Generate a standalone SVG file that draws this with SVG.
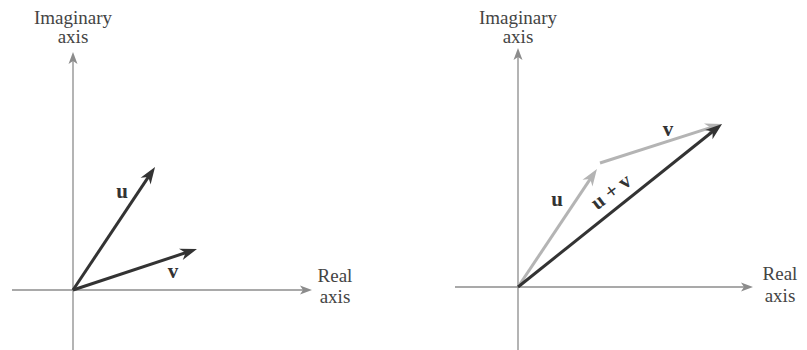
<svg xmlns="http://www.w3.org/2000/svg" width="807" height="350" viewBox="0 0 807 350">
<style>
.axis{stroke:#8c8c8c;stroke-width:1.3;fill:none;marker-end:url(#ah)}
.dk{stroke:#333;stroke-width:3;fill:none;marker-end:url(#dk)}
.lt{stroke:#b4b4b4;stroke-width:3;fill:none;marker-end:url(#lt)}
.lbl{font-family:"Liberation Serif",serif;font-size:19px;fill:#444;text-anchor:middle}
.vl{font-family:"Liberation Serif",serif;font-size:21px;font-weight:bold;fill:#333;text-anchor:middle}
</style>
<defs>
<marker id="ah" markerUnits="userSpaceOnUse" viewBox="-16 -6 17 12" refX="-6" refY="0" markerWidth="17" markerHeight="12" orient="auto"><path d="M0,0 L-12,-4.5 L-9,0 L-12,4.5 Z" fill="#8c8c8c"/></marker>
<marker id="dk" markerUnits="userSpaceOnUse" viewBox="-18 -8 19 16" refX="-8" refY="0" markerWidth="19" markerHeight="16" orient="auto"><path d="M0,0 L-17,-6 L-12,0 L-17,6 Z" fill="#333"/></marker>
<marker id="lt" markerUnits="userSpaceOnUse" viewBox="-18 -8 19 16" refX="-8" refY="0" markerWidth="19" markerHeight="16" orient="auto"><path d="M0,0 L-17,-6 L-12,0 L-17,6 Z" fill="#b4b4b4"/></marker>
</defs>
<g id="connectors">
<line class="axis" x1="73" y1="350" x2="73" y2="58"/>
<line class="axis" x1="12" y1="290" x2="306" y2="290"/>
<line class="axis" x1="518" y1="350" x2="518" y2="54"/>
<line class="axis" x1="455" y1="287" x2="747" y2="287"/>
<line class="dk" x1="73" y1="290" x2="150.6" y2="173.7"/>
<line class="dk" x1="73" y1="290" x2="189.4" y2="251.5"/>
<line class="lt" x1="518" y1="287" x2="592.5" y2="175.6"/>
<line class="lt" x1="600" y1="163" x2="714.4" y2="126.4"/>
<line class="dk" x1="518" y1="287" x2="715.8" y2="129"/>
</g>
<g id="left-imag"><text class="lbl" x="73" y="24">Imaginary</text><text class="lbl" x="73" y="43">axis</text></g>
<g id="left-real"><text class="lbl" x="335" y="282">Real</text><text class="lbl" x="335" y="303">axis</text></g>
<g id="right-imag"><text class="lbl" x="518" y="24">Imaginary</text><text class="lbl" x="518" y="43">axis</text></g>
<g id="right-real"><text class="lbl" x="780" y="280">Real</text><text class="lbl" x="780" y="302">axis</text></g>
<g id="left-u"><text class="vl" x="122" y="198">u</text></g>
<g id="left-v"><text class="vl" x="173" y="278">v</text></g>
<g id="right-u"><text class="vl" x="557" y="206">u</text></g>
<g id="right-v"><text class="vl" x="668" y="136">v</text></g>
<g id="right-uv"><text class="vl" x="615" y="197" transform="rotate(-37 615 197)">u + v</text></g>
</svg>
